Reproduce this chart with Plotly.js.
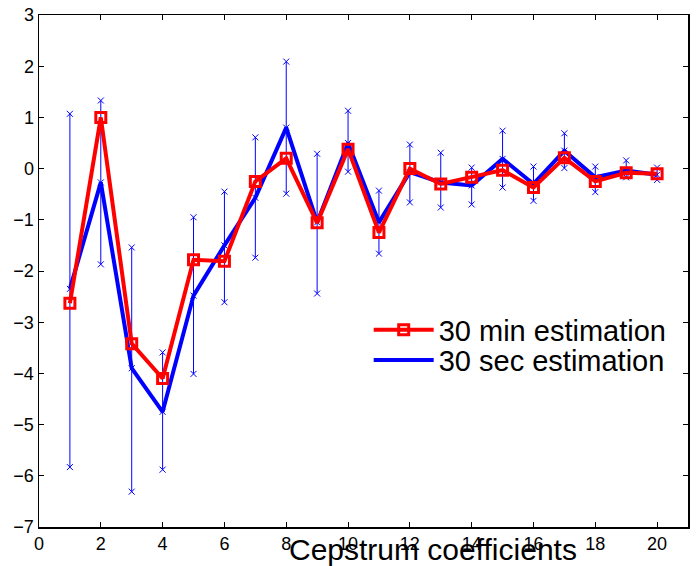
<!DOCTYPE html>
<html>
<head>
<meta charset="utf-8">
<script src="https://cdn.plot.ly/plotly-3.0.1.min.js"></script>
<style>html,body{margin:0;padding:0;background:#fff}#chart{width:699px;height:566px}</style>
</head>
<body>
<div id="chart"></div>
<script>
// Cepstrum coefficient index
const coeffs = [1,2,3,4,5,6,7,8,9,10,11,12,13,14,15,16,17,18,19,20];
// 30 min estimation (red)
const minEstimation = [-2.63,1.0,-3.42,-4.1,-1.78,-1.81,-0.25,0.2,-1.06,0.38,-1.25,0.0,-0.3,-0.17,-0.03,-0.37,0.21,-0.25,-0.08,-0.1];
// 30 sec estimation (blue)
const secEstimation = [-2.35,-0.27,-3.9,-4.75,-2.48,-1.5,-0.57,0.8,-1.05,0.5,-1.05,-0.07,-0.27,-0.33,0.19,-0.3,0.35,-0.17,-0.04,-0.12];
// spread of the 30 sec estimates
const secUpper = [1.07,1.33,-1.54,-3.59,-0.95,-0.45,0.61,2.09,0.29,1.13,-0.43,0.47,0.31,0.02,0.74,0.04,0.69,0.04,0.16,0.02];
const secLower = [-5.83,-1.87,-6.31,-5.88,-4.01,-2.61,-1.74,-0.49,-2.44,-0.06,-1.66,-0.66,-0.76,-0.7,-0.37,-0.63,0.01,-0.46,-0.17,-0.22];
// tick labels
const xTickVals = [0,2,4,6,8,10,12,14,16,18,20];
const xTickText = ["0","2","4","6","8","10","12","14","16","18","20"];
const yTickVals = [3,2,1,0,-1,-2,-3,-4,-5,-6,-7];
const yTickText = ["3","2","1","0","\u22121","\u22122","\u22123","\u22124","\u22125","\u22126","\u22127"];

// build error-bar segments: lower -> mean -> upper, separated by gaps
const ebX = [], ebY = [];
coeffs.forEach((c, i) => {
  ebX.push(c, c, c, null);
  ebY.push(secLower[i], secEstimation[i], secUpper[i], null);
});

const FONT = 'Liberation Sans, Arial, Helvetica, sans-serif';

const traces = [
  {
    x: ebX, y: ebY, type: 'scatter', mode: 'lines+markers',
    line: {color: '#0000ff', width: 1},
    marker: {symbol: 'x-thin-open', size: 6, color: '#0000ff', line: {color: '#0000ff', width: 1}},
    showlegend: false, hoverinfo: 'skip', connectgaps: false
  },
  {
    x: coeffs, y: secEstimation, type: 'scatter', mode: 'lines',
    name: '30 sec estimation', legend: 'legend2',
    line: {color: '#0000ff', width: 4}
  },
  {
    x: coeffs, y: minEstimation, type: 'scatter', mode: 'lines+markers',
    name: '30 min estimation', legend: 'legend',
    line: {color: '#ff0000', width: 4},
    marker: {symbol: 'square-open', size: 10, color: '#ff0000', line: {color: '#ff0000', width: 3}}
  }
];

const axisCommon = {
  showgrid: false, zeroline: false, showline: true, linecolor: '#000', linewidth: 1.5,
  mirror: 'allticks', ticks: 'inside', ticklen: 5, tickwidth: 1, tickcolor: '#000',
  tickfont: {family: FONT, size: 18, color: '#000'}
};

const legendCommon = {
  xanchor: 'left', yanchor: 'middle',
  bgcolor: 'rgba(0,0,0,0)', borderwidth: 0,
  font: {family: FONT, size: 29, color: '#000'},
  itemwidth: 60
};

const layout = {
  width: 699, height: 566,
  margin: {l: 39, r: 11, t: 15, b: 39},
  paper_bgcolor: '#fff', plot_bgcolor: '#fff',
  font: {family: FONT, color: '#000'},
  xaxis: Object.assign({}, axisCommon, {
    range: [0, 21], tickmode: 'array', tickvals: xTickVals, ticktext: xTickText
  }),
  yaxis: Object.assign({}, axisCommon, {
    range: [-7, 3], tickmode: 'array', tickvals: yTickVals, ticktext: yTickText
  }),
  legend: Object.assign({}, legendCommon, {x: 0.508, y: 0.385}),
  legend2: Object.assign({}, legendCommon, {x: 0.508, y: 0.326}),
  annotations: [{
    text: 'Cepstrum coefficients', xref: 'paper', yref: 'paper',
    x: 0.607, y: -0.043, xanchor: 'center', yanchor: 'middle', showarrow: false,
    font: {family: FONT, size: 30, color: '#000'}
  }],
  showlegend: true
};

Plotly.newPlot('chart', traces, layout, {displayModeBar: false, staticPlot: true});
</script>
</body>
</html>
